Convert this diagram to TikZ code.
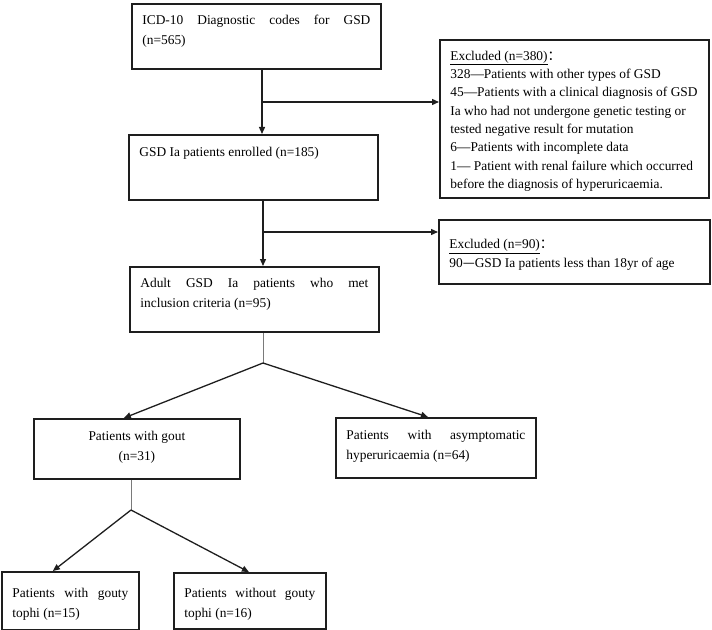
\documentclass[tikz,border=0pt]{standalone}
\usepackage{fontspec}
\setmainfont{Liberation Serif}
\newfontfamily\cjk{Noto Sans CJK SC}
\usetikzlibrary{arrows.meta}
\definecolor{BoxLine}{HTML}{1E1E1E}
\definecolor{StemGray}{HTML}{7A7A7A}
\newcommand{\mainsize}{\fontsize{13.4bp}{20bp}\selectfont}
\newcommand{\exclsize}{\fontsize{13.4bp}{18.3bp}\selectfont}
% width, height, first baseline, text
\newcommand{\boxtext}[4]{\parbox[t][#2bp][t]{#1bp}{\rule{0pt}{#3bp}#4}}
\tikzset{flowbox/.style={draw=BoxLine, line width=1.8bp, anchor=north west,
    inner xsep=10.5bp, inner ysep=0pt, font=\mainsize}}
\tikzset{exclbox/.style={flowbox, font=\exclsize}}
\tikzset{stem/.style={StemGray, line width=1bp}}
\tikzset{link/.style={BoxLine, line width=1.3bp, ->}}

\begin{document}
\begin{tikzpicture}[x=1bp,y=-1bp,>={Triangle[length=7bp,width=6bp]}]
  \useasboundingbox (0,0) rectangle (712,630);
  % main column
  \node[flowbox] (icd) at (131,3)
    {\boxtext{228}{65}{21}{ICD-10 Diagnostic codes for GSD\linebreak (n=565)}};
  \node[flowbox] (enrol) at (128,134)
    {\boxtext{228}{65}{22}{GSD Ia patients enrolled (n=185)}};
  \node[flowbox] (adult) at (129,266)
    {\boxtext{228}{65}{21}{Adult GSD Ia patients who met\linebreak inclusion criteria (n=95)}};
  % excluded
  \node[exclbox] (excl1) at (439,39)
    {\boxtext{248}{158}{20.5}{\raggedright\underline{Excluded (n=380)}{\cjk ：}\\
      328—Patients with other types of GSD\\
      45—Patients with a clinical diagnosis of GSD\\
      Ia who had not undergone genetic testing or\\
      tested negative result for mutation\\
      6—Patients with incomplete data\\
      1— Patient with renal failure which occurred\\
      before the diagnosis of hyperuricaemia.}};
  \node[exclbox] (excl2) at (438,219)
    {\boxtext{250}{64}{29}{\raggedright\underline{Excluded (n=90)}{\cjk ：}\\
      90{\cjk —}GSD Ia patients less than 18yr of age}};
  % groups
  \node[flowbox] (gout) at (33,418)
    {\boxtext{185}{60}{21.5}{\centering Patients with gout\\(n=31)}};
  \node[flowbox] (asym) at (335,417)
    {\boxtext{179}{60}{21.5}{Patients with asymptomatic\linebreak hyperuricaemia (n=64)}};
  \node[flowbox] (tophi) at (1,571)
    {\boxtext{116}{58}{25.5}{Patients with gouty\linebreak tophi (n=15)}};
  \node[flowbox] (notophi) at (173,572)
    {\boxtext{131}{56}{25}{Patients without gouty\linebreak tophi (n=16)}};

  \coordinate (spine) at (262,0);
  \coordinate (cut1) at (262,102);
  \coordinate (cut2) at (263,232);
  \coordinate (fork1) at (263,363);
  \coordinate (fork2) at (131,510);

  \draw[link] (icd.south -| spine) -- (enrol.north -| spine);
  \draw[link] (cut1) -- (cut1 -| excl1.west);
  \draw[link] (enrol.south -| cut2) -- (adult.north -| cut2);
  \draw[link] (cut2) -- (cut2 -| excl2.west);
  \draw[stem] (adult.south -| fork1) -- (fork1);
  \draw[link] (fork1) -- ([xshift=-13bp]gout.north);
  \draw[link] (fork1) -- ([xshift=-8bp]asym.north);
  \draw[stem] (gout.south -| fork2) -- (fork2);
  \draw[link] (fork2) -- ([xshift=-17.5bp]tophi.north);
  \draw[link] (fork2) -- ([xshift=-1bp]notophi.north);
\end{tikzpicture}
\end{document}
